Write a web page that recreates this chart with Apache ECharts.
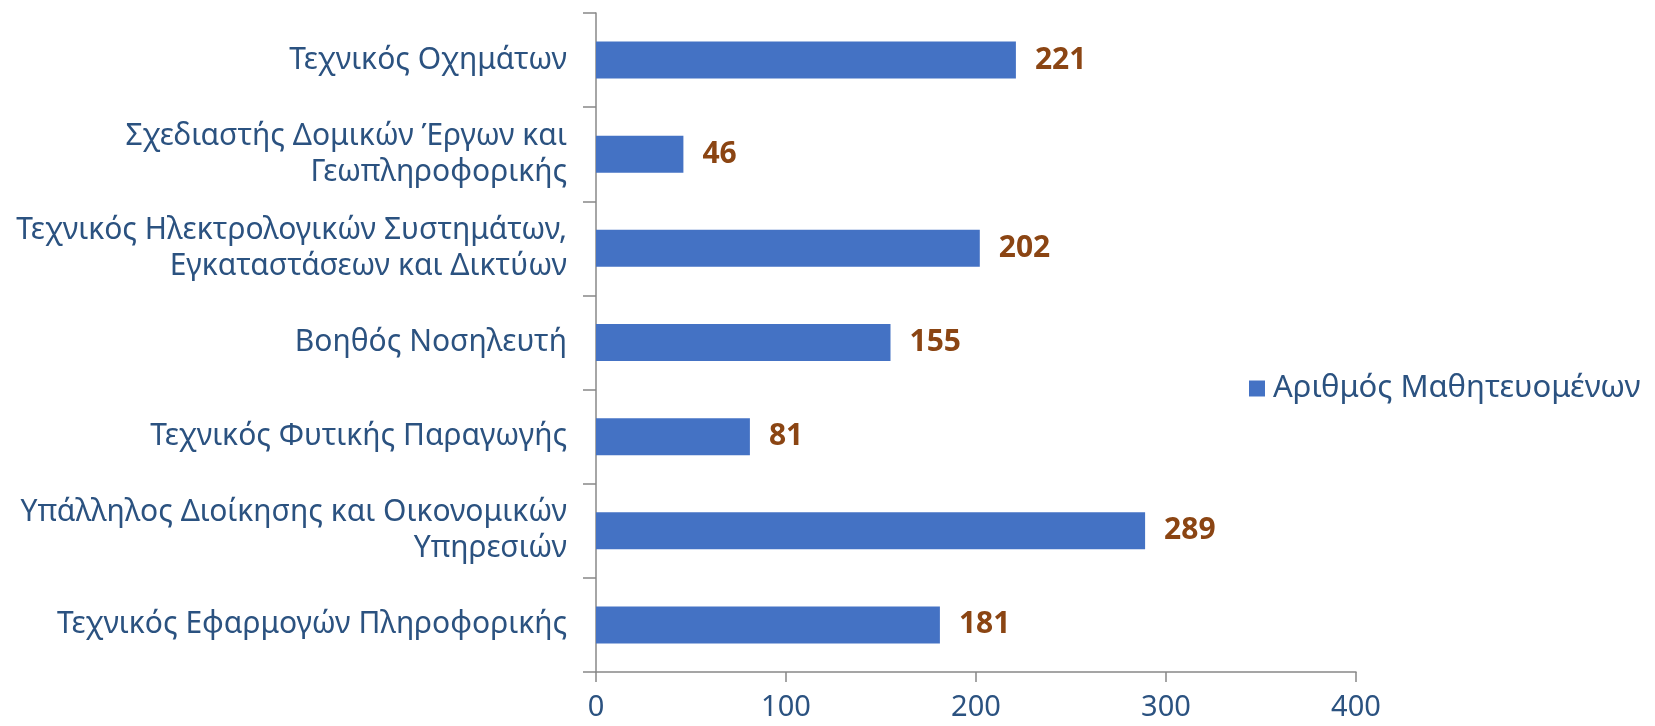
<!DOCTYPE html>
<html><head><meta charset="utf-8">
<script src="https://cdn.jsdelivr.net/npm/echarts@6/dist/echarts.min.js"></script>
<style>html,body{margin:0;padding:0;background:#fff}#c{width:1655px;height:726px}</style>
</head><body><div id="c"></div>
<script>
const categories = [
  "Τεχνικός Οχημάτων",
  "Σχεδιαστής Δομικών Έργων και\nΓεωπληροφορικής",
  "Τεχνικός Ηλεκτρολογικών Συστημάτων,\nΕγκαταστάσεων και Δικτύων",
  "Βοηθός Νοσηλευτή",
  "Τεχνικός Φυτικής Παραγωγής",
  "Υπάλληλος Διοίκησης και Οικονομικών\nΥπηρεσιών",
  "Τεχνικός Εφαρμογών Πληροφορικής"
];
const values = [221, 46, 202, 155, 81, 289, 181];
const seriesName = "Αριθμός Μαθητευομένων";
const xTicks = [0, 100, 200, 300, 400];

const textColor = "#2b5280";
const chart = echarts.init(document.getElementById('c'));
chart.setOption({
  animation: false,
  textStyle: { fontFamily: "Noto Sans" },
  grid: { left: 596, right: 299, top: 13, bottom: 54, containLabel: false },
  legend: {
    data: [seriesName],
    left: 1244, top: 368,
    itemWidth: 16, itemHeight: 16, itemGap: 10,
    icon: 'rect',
    textStyle: { fontSize: 31, color: textColor, fontFamily: "Noto Sans", padding: [0, 0, 0, 3] }
  },
  xAxis: {
    type: 'value', min: xTicks[0], max: xTicks[xTicks.length - 1], interval: 100,
    splitLine: { show: false },
    axisLine: { show: true, lineStyle: { color: '#888888', width: 1.5 } },
    axisTick: { show: true, length: 10, lineStyle: { color: '#888888', width: 1.5 } },
    axisLabel: { fontSize: 29, color: textColor, margin: 21 }
  },
  yAxis: {
    type: 'category', data: categories, inverse: true,
    axisLine: { show: true, lineStyle: { color: '#888888', width: 1.5 } },
    axisTick: { show: true, length: 13, lineStyle: { color: '#888888', width: 1.5 } },
    axisLabel: { fontSize: 30, color: textColor, margin: 29, lineHeight: 36, align: 'right' }
  },
  series: [{
    name: seriesName, type: 'bar', data: values,
    barWidth: 37,
    itemStyle: { color: '#4472c4' },
    label: {
      show: true, position: 'right', distance: 19,
      fontSize: 30, fontWeight: 'bold', color: '#8b4513'
    }
  }]
});
</script></body></html>
